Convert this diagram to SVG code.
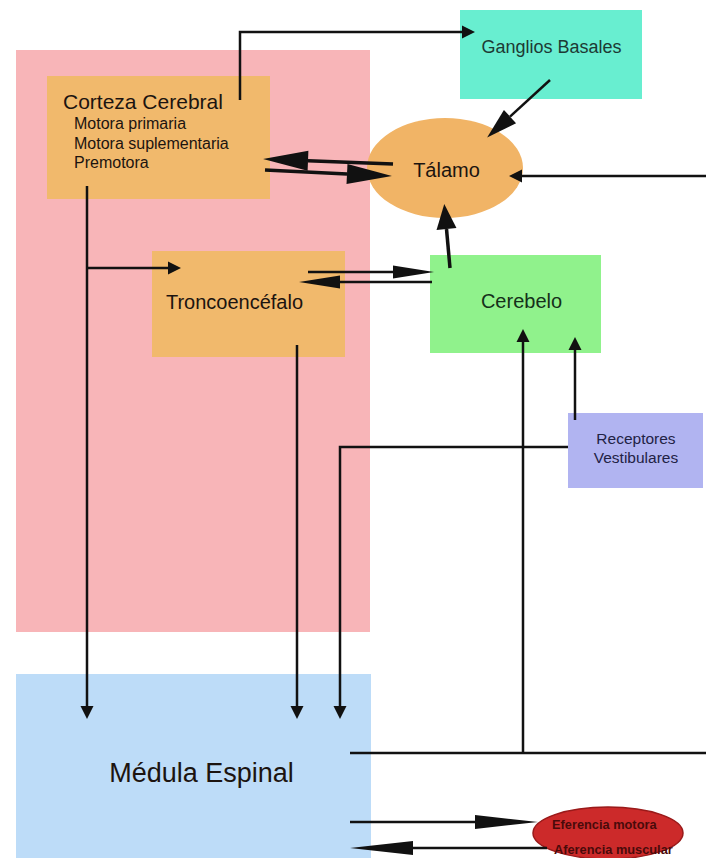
<svg xmlns="http://www.w3.org/2000/svg" width="706" height="858" viewBox="0 0 706 858">
<style>
text{font-family:"Liberation Sans",Arial,Helvetica,sans-serif;fill:#1c1410}
.ln{fill:none;stroke:#111;stroke-width:2.5}
.lnb{fill:none;stroke:#111;stroke-width:3.5}
.mid{text-anchor:middle}
</style>
<defs>
<marker id="mBig" markerUnits="userSpaceOnUse" markerWidth="46" markerHeight="22" refX="0" refY="11" orient="auto" overflow="visible"><path d="M0,1 L45,11 L0,21 Z" fill="#111"/></marker>
<marker id="mMed" markerUnits="userSpaceOnUse" markerWidth="42" markerHeight="14" refX="0" refY="7" orient="auto" overflow="visible"><path d="M0,0.5 L41,7 L0,13.5 Z" fill="#111"/></marker>
<marker id="mLong" markerUnits="userSpaceOnUse" markerWidth="64" markerHeight="16" refX="0" refY="8" orient="auto" overflow="visible"><path d="M0,1 L63,8 L0,15 Z" fill="#111"/></marker>
<marker id="mThick" markerUnits="userSpaceOnUse" markerWidth="26" markerHeight="20" refX="0" refY="10" orient="auto" overflow="visible"><path d="M0,0 L25,10 L0,20 Z" fill="#111"/></marker>
<marker id="mGang" markerUnits="userSpaceOnUse" markerWidth="32" markerHeight="20" refX="0" refY="10" orient="auto" overflow="visible"><path d="M0,1 L31,10 L0,19 Z" fill="#111"/></marker>
<marker id="mSm" markerUnits="userSpaceOnUse" markerWidth="13" markerHeight="13" refX="0" refY="6.5" orient="auto" overflow="visible"><path d="M0,0 L13,6.5 L0,13 Z" fill="#111"/></marker>
</defs>

<g id="encefalo"><rect x="16" y="50" width="354" height="582" fill="#f8b5b8"/></g>
<g id="medula-espinal"><rect x="16" y="674" width="355" height="184" fill="#bddcf8"/><text class="mid" x="201.5" y="782" font-size="27">Médula Espinal</text></g>
<g id="corteza-cerebral"><rect x="47" y="76" width="223" height="123" fill="#f1b96c"/>
<text x="63" y="109" font-size="21">Corteza Cerebral</text>
<text x="74" y="129" font-size="16">Motora primaria</text>
<text x="74" y="149" font-size="16">Motora suplementaria</text>
<text x="74" y="168" font-size="16">Premotora</text></g>
<g id="ganglios-basales"><rect x="460" y="10" width="182" height="89" fill="#68eed0"/><text class="mid" x="551.5" y="53" font-size="18" style="fill:#1d3a34">Ganglios Basales</text></g>
<g id="talamo"><ellipse cx="445" cy="168" rx="78" ry="50" fill="#f1b466"/><text class="mid" x="446.5" y="177" font-size="20">Tálamo</text></g>
<g id="troncoencefalo"><rect x="152" y="251" width="193" height="106" fill="#f1b96c"/><text class="mid" x="234.5" y="309" font-size="20">Troncoencéfalo</text></g>
<g id="cerebelo"><rect x="430" y="255" width="171" height="98" fill="#90f28c"/><text class="mid" x="521.5" y="308" font-size="20" style="fill:#15301a">Cerebelo</text></g>
<g id="receptores-vestibulares"><rect x="568" y="413" width="135" height="75" fill="#b1b4f1"/><text class="mid" x="636" y="444" font-size="15.5" style="fill:#222245">Receptores</text><text class="mid" x="636" y="463" font-size="15.5" style="fill:#222245">Vestibulares</text></g>
<g id="eferencia-aferencia"><ellipse cx="608" cy="833" rx="75" ry="26" fill="#cc2a2a" stroke="#9a1a1a" stroke-width="1.5"/><text x="552" y="829" font-size="12.8" font-weight="bold" style="fill:#4a0a0a">Eferencia motora</text><text x="554" y="854" font-size="12.8" font-weight="bold" style="fill:#4a0a0a">Aferencia muscular</text></g>

<g id="connectors">
<path class="ln" d="M240,100 V32 H462" marker-end="url(#mSm)"/>
<path class="lnb" d="M393,164 L308,160.7" marker-end="url(#mBig)"/>
<path class="lnb" d="M265,170 L347,173.9" marker-end="url(#mBig)"/>
<path class="ln" d="M550,80 L510,116.6" marker-end="url(#mGang)"/>
<path class="ln" d="M706,176 H522" marker-end="url(#mSm)"/>
<path class="lnb" d="M450,268 L446.5,229" stroke-width="4.5" marker-end="url(#mThick)"/>
<path class="ln" d="M87,186 V706" marker-end="url(#mSm)"/>
<path class="ln" d="M87,268 H168" marker-end="url(#mSm)"/>
<path class="ln" d="M308,272 H393" marker-end="url(#mMed)"/>
<path class="ln" d="M432,282 H340" marker-end="url(#mMed)"/>
<path class="ln" d="M297,345 V706" marker-end="url(#mSm)"/>
<path class="ln" d="M568,447 H340 V706" marker-end="url(#mSm)"/>
<path class="ln" d="M575,420 V350" marker-end="url(#mSm)"/>
<path class="ln" d="M350,753 H706"/>
<path class="ln" d="M523,753 V342" marker-end="url(#mSm)"/>
<path class="ln" d="M350,822 H475" marker-end="url(#mLong)"/>
<path class="ln" d="M547,848 H413" marker-end="url(#mLong)"/>
</g>
</svg>
